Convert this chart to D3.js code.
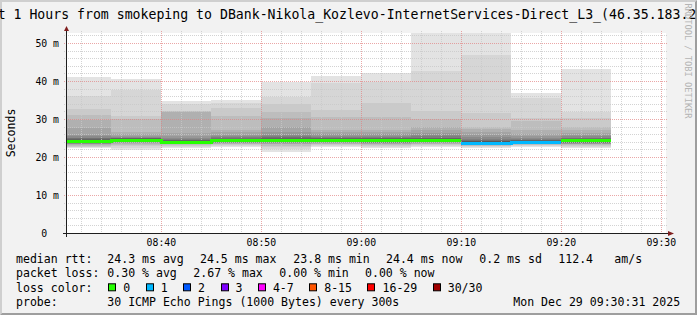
<!DOCTYPE html>
<html lang="en">
<head>
<meta charset="UTF-8">
<title>SmokePing - last 1 hour</title>
<script src="https://cdn.jsdelivr.net/npm/d3@7"></script>
<style>
  html, body { margin: 0; padding: 0; background: #f2f2f2; }
  svg { display: block; font-family: "DejaVu Sans Mono", monospace; }
</style>
</head>
<body>
<svg id="chart" width="697" height="315"></svg>
<script>
// graph window (UTC) and the 300 s steps, labelled by their end time
const day = "2025-12-29";
const graphStart = "08:30:31";
const graphEnd = "09:30:31";
const stepTimes = ["08:35", "08:40", "08:45", "08:50", "08:55", "09:00", "09:05", "09:10", "09:15", "09:20", "09:25"];

// median rtt per step (ms) and lost pings per step (of 30)
const medians = [24.2, 24.5, 24.0, 24.4, 24.5, 24.4, 24.4, 24.4, 23.8, 24.0, 24.4];
const lostPings = [0, 0, 0, 0, 0, 0, 0, 0, 0.8, 0.2, 0];

// the 30 sorted ping times of every step (ms)
const pings = [
  [22.3, 22.5, 22.7, 22.9, 23.1, 23.3, 23.4, 23.5, 23.6, 23.7, 23.8, 23.9, 24.0, 24.1, 24.2, 24.3, 24.4, 24.5, 24.6, 24.7, 24.9, 25.1, 25.4, 25.8, 27.6, 29.7, 31.0, 32.6, 36.0, 41.1],
  [21.8, 22.4, 22.8, 23.1, 23.4, 23.6, 23.8, 23.9, 24.0, 24.1, 24.2, 24.3, 24.4, 24.4, 24.5, 24.5, 24.6, 24.7, 24.8, 24.9, 25.0, 25.1, 25.3, 25.6, 26.0, 26.7, 30.1, 30.8, 37.6, 40.5],
  [22.3, 22.6, 22.9, 23.1, 23.3, 23.4, 23.5, 23.6, 23.7, 23.8, 23.9, 23.9, 24.0, 24.0, 24.0, 24.0, 24.1, 24.2, 24.3, 24.4, 24.6, 24.8, 25.1, 25.6, 26.3, 31.9, 32.0, 32.1, 33.9, 34.7],
  [22.7, 23.0, 23.2, 23.4, 23.5, 23.6, 23.7, 23.8, 23.9, 24.0, 24.1, 24.2, 24.3, 24.3, 24.4, 24.4, 24.5, 24.6, 24.7, 24.8, 25.0, 25.2, 25.5, 25.9, 26.5, 27.1, 30.8, 32.9, 34.3, 35.0],
  [21.4, 22.0, 22.6, 23.0, 23.3, 23.5, 23.7, 23.8, 23.9, 24.0, 24.1, 24.2, 24.3, 24.4, 24.5, 24.5, 24.6, 24.7, 24.8, 25.0, 25.2, 25.5, 25.9, 26.6, 27.8, 30.3, 31.9, 33.9, 35.9, 39.8],
  [22.6, 22.9, 23.2, 23.4, 23.5, 23.7, 23.8, 23.9, 24.0, 24.0, 24.1, 24.2, 24.3, 24.3, 24.4, 24.4, 24.5, 24.6, 24.7, 24.9, 25.1, 25.3, 25.6, 26.0, 26.6, 27.1, 30.5, 32.4, 39.4, 41.3],
  [22.3, 22.7, 23.0, 23.2, 23.4, 23.5, 23.6, 23.7, 23.8, 23.9, 24.0, 24.1, 24.2, 24.3, 24.4, 24.4, 24.5, 24.6, 24.7, 24.9, 25.1, 25.3, 25.6, 26.0, 26.5, 27.1, 30.6, 34.1, 39.8, 42.0],
  [22.6, 22.9, 23.1, 23.3, 23.5, 23.7, 23.8, 23.9, 24.0, 24.1, 24.2, 24.3, 24.3, 24.4, 24.4, 24.4, 24.5, 24.6, 24.7, 24.9, 25.1, 25.4, 25.8, 26.4, 27.2, 28.0, 29.9, 32.1, 42.7, 55.0],
  [22.3, 22.6, 22.8, 23.0, 23.1, 23.2, 23.3, 23.4, 23.5, 23.5, 23.6, 23.7, 23.7, 23.8, 23.8, 23.8, 23.9, 24.0, 24.1, 24.3, 24.5, 24.8, 25.2, 25.8, 26.6, 27.3, 28.0, 31.5, 46.8, 54.0],
  [22.6, 22.9, 23.1, 23.2, 23.3, 23.4, 23.5, 23.6, 23.7, 23.7, 23.8, 23.8, 23.9, 23.9, 24.0, 24.0, 24.1, 24.2, 24.3, 24.4, 24.6, 24.8, 25.1, 25.5, 26.0, 27.1, 29.6, 30.2, 35.4, 36.8],
  [22.3, 22.7, 22.9, 23.1, 23.3, 23.4, 23.5, 23.6, 23.7, 23.8, 23.9, 24.0, 24.1, 24.2, 24.3, 24.4, 24.4, 24.5, 24.6, 24.7, 24.9, 25.1, 25.4, 25.8, 26.3, 27.0, 28.0, 30.2, 31.9, 43.2]
];

// loss colour classes (upper bound in lost pings)
const lossLabels = ["0", "1", "2", "3", "4-7", "8-15", "16-29", "30/30"];
const lossLimits = [0, 1, 2, 3, 7, 15, 29, 30];
const lossColors = ["#26ff00", "#00b8ff", "#0059ff", "#7e00ff", "#ff00ff", "#ff5500", "#ff0000", "#a00000"];

const yTicks = [0, 10, 20, 30, 40, 50];
const yMax = 52.63;

const title = "Last 1 Hours from smokeping to DBank-Nikola_Kozlevo-InternetServices-Direct_L3_(46.35.183.2";
const medianStats = ["24.3 ms avg", "24.5 ms max", "23.8 ms min", "24.4 ms now", "0.2 ms sd", "112.4", "am/s"];
const lossStats = ["0.30 % avg", "2.67 % max", "0.00 % min", "0.00 % now"];
const probeText = "30 ICMP Echo Pings (1000 Bytes) every 300s";
const stampText = "Mon Dec 29 09:30:31 2025";

(function () {
    const W = 697, H = 315;
    const X0 = 66, X1 = 666, Y0 = 233, Y1 = 33;
    const pingCount = 30, half = pingCount / 2;

    const svg = d3.select("#chart");
    const parse = d3.utcParse("%Y-%m-%d %H:%M:%S");
    const tStart = parse(`${day} ${graphStart}`);
    const tEnd = parse(`${day} ${graphEnd}`);

    const x = d3.scaleUtc().domain([tStart, tEnd]).range([X0, X1]);
    const y = d3.scaleLinear().domain([0, yMax]).range([Y0, Y1]);

    // background and 3d border
    svg.append("rect").attr("width", W).attr("height", H).attr("fill", "#f2f2f2");
    svg.append("path").attr("d", `M0,0H${W}L${W - 2},2H2V${H - 2}L0,${H}Z`).attr("fill", "#cfcfcf");
    svg.append("path").attr("d", `M${W},0V${H}H0L2,${H - 2}H${W - 2}V2Z`).attr("fill", "#9e9e9e");

    svg.append("rect")
        .attr("x", X0).attr("y", Y1)
        .attr("width", X1 - X0).attr("height", Y0 - Y1)
        .attr("fill", "#ffffff");

    svg.append("defs").append("clipPath").attr("id", "plot")
        .append("rect")
        .attr("x", X0).attr("y", Y1)
        .attr("width", X1 - X0).attr("height", Y0 - Y1);

    // step extents in pixels
    const steps = stepTimes.map((t, i) => {
        const te = parse(`${day} ${t}:00`);
        const tb = new Date(Math.max(+tStart, +te - 300e3));
        return { i, xa: Math.round(x(tb)), xb: Math.round(x(te)) };
    });

    // smoke: band k spans ping k .. ping (31-k), darker toward the middle
    const bands = [];
    steps.forEach(s => {
        const p = pings[s.i];
        for (let k = 1; k <= half; k++) {
            const g = Math.floor(190 / half * (half - k)) + 50;
            bands.push({ xa: s.xa, xb: s.xb, lo: p[k - 1], hi: p[pingCount - k], grey: g });
        }
    });

    svg.append("g")
        .attr("clip-path", "url(#plot)")
        .attr("shape-rendering", "crispEdges")
        .selectAll("rect")
        .data(bands)
        .enter()
        .append("rect")
        .attr("x", d => d.xa)
        .attr("width", d => d.xb - d.xa)
        .attr("y", d => Math.round(y(d.hi)))
        .attr("height", d => Math.max(1, Math.round(y(d.lo)) - Math.round(y(d.hi))))
        .attr("fill", d => d3.rgb(d.grey, d.grey, d.grey));

    // grid
    const grid = svg.append("g").attr("fill", "none").attr("stroke-dasharray", "1,1");
    const minorY = d3.range(2, yMax, 2).filter(v => v % 10 !== 0);
    const majorY = yTicks.filter(v => v > 0);
    const minorX = x.ticks(d3.utcMinute.every(2)).filter(t => t.getUTCMinutes() % 10 !== 0);
    const majorX = x.ticks(d3.utcMinute.every(10));

    function hLines(vals, colour) {
        grid.selectAll(null).data(vals).enter().append("line")
            .attr("x1", X0 - 2).attr("x2", X1 + 2)
            .attr("y1", d => Math.round(y(d)) + 0.5).attr("y2", d => Math.round(y(d)) + 0.5)
            .attr("stroke", colour);
    }
    function vLines(vals, colour) {
        grid.selectAll(null).data(vals).enter().append("line")
            .attr("y1", Y1 - 2).attr("y2", Y0 + 2)
            .attr("x1", d => Math.round(x(d)) + 0.5).attr("x2", d => Math.round(x(d)) + 0.5)
            .attr("stroke", colour);
    }
    hLines(minorY, "rgba(200,200,200,0.8)");
    vLines(minorX, "rgba(200,200,200,0.8)");
    hLines(majorY, "rgba(225,130,130,0.7)");
    vLines(majorX, "rgba(225,130,130,0.7)");

    // median line, coloured by loss class, joined while the class stays the same
    const lossClass = l => lossLimits.findIndex(lim => l <= lim);
    const runs = [];
    steps.forEach(s => {
        const c = lossClass(lostPings[s.i]);
        const yy = Math.round(y(medians[s.i])) + 0.5;
        const last = runs[runs.length - 1];
        if (!last || last.c !== c) runs.push({ c, pts: [] });
        runs[runs.length - 1].pts.push([s.xa, yy], [s.xb, yy]);
    });
    const line = d3.line();
    svg.append("g").selectAll("path").data(runs).enter().append("path")
        .attr("d", d => line(d.pts))
        .attr("fill", "none")
        .attr("stroke", d => lossColors[d.c])
        .attr("stroke-width", 3)
        .attr("shape-rendering", "crispEdges");

    // axes
    const axisCol = "#1f1f1f", arrowCol = "#801f1f";
    svg.append("line").attr("x1", X0 - 3).attr("x2", X1 + 2)
        .attr("y1", Y0 + 0.5).attr("y2", Y0 + 0.5).attr("stroke", axisCol);
    svg.append("line").attr("x1", X0 + 0.5).attr("x2", X0 + 0.5)
        .attr("y1", Y0 + 4).attr("y2", Y1 - 3).attr("stroke", axisCol);
    svg.append("path").attr("d", `M${X1 + 2},${Y0 - 2}L${X1 + 8},${Y0 + 0.5}L${X1 + 2},${Y0 + 3}Z`).attr("fill", arrowCol);
    svg.append("path").attr("d", `M${X0 - 2},${Y1 - 2}L${X0 + 0.5},${Y1 - 7}L${X0 + 3},${Y1 - 2}Z`).attr("fill", arrowCol);

    const yAxis = d3.axisLeft(y)
        .tickValues(yTicks)
        .tickSize(0)
        .tickPadding(7)
        .tickFormat(v => v === 0 ? "0" : `${v} m`);
    const gy = svg.append("g").attr("transform", `translate(${X0},0)`).call(yAxis);
    gy.select(".domain").remove();
    gy.selectAll("text")
        .attr("dy", "0.35em")
        .attr("dx", d => d === 0 ? -11.8 : 0)
        .attr("font-family", "DejaVu Sans Mono")
        .attr("font-size", "9.8px")
        .attr("fill", "#000");

    const xAxis = d3.axisBottom(x)
        .tickValues(majorX)
        .tickSize(0)
        .tickPadding(6)
        .tickFormat(d3.utcFormat("%H:%M"));
    const gx = svg.append("g").attr("transform", `translate(0,${Y0})`).call(xAxis);
    gx.select(".domain").remove();
    gx.selectAll("text")
        .attr("font-family", "DejaVu Sans Mono")
        .attr("font-size", "9.8px")
        .attr("fill", "#000");

    // y axis title
    svg.append("text")
        .attr("transform", `translate(14.5,${(Y0 + Y1) / 2}) rotate(-90)`)
        .attr("text-anchor", "middle")
        .attr("font-size", "11.55px")
        .text("Seconds");

    // title (wider than the picture, as in the original)
    svg.append("text")
        .attr("x", -26.2).attr("y", 18.5)
        .attr("font-size", "13.2px")
        .text(title);

    // legend
    const base = [263.3, 277.4, 291.6, 305.7];
    const legend = svg.append("g").attr("font-size", "11.55px").style("white-space", "pre");
    const medianX = [107.3, 200, 293.3, 386, 479.3, 558.3, 614.3];
    const lossX = [107.3, 193.3, 279.3, 365];

    legend.append("text").attr("x", 16).attr("y", base[0]).text("median rtt:");
    legend.selectAll(null).data(medianStats).enter().append("text")
        .attr("x", (d, i) => medianX[i]).attr("y", base[0]).text(d => d);

    legend.append("text").attr("x", 16).attr("y", base[1]).text("packet loss:");
    legend.selectAll(null).data(lossStats).enter().append("text")
        .attr("x", (d, i) => lossX[i]).attr("y", base[1]).text(d => d);

    legend.append("text").attr("x", 16).attr("y", base[2]).text("loss color:");
    let sx = 108.3;
    lossLabels.forEach((lab, i) => {
        legend.append("rect")
            .attr("x", Math.round(sx) + 0.5).attr("y", base[2] - 7.8)
            .attr("width", 7).attr("height", 7)
            .attr("fill", lossColors[i])
            .attr("stroke", "#000").attr("stroke-width", 1);
        const t = legend.append("text").attr("x", sx + 15).attr("y", base[2]).text(lab);
        sx += 15 + t.node().getComputedTextLength() + 15.45;
    });

    legend.append("text").attr("x", 16).attr("y", base[3]).text("probe:");
    legend.append("text").attr("x", 107.3).attr("y", base[3]).text(probeText);
    legend.append("text").attr("x", 513.3).attr("y", base[3]).text(stampText);

    // rrdtool watermark
    svg.append("text")
        .attr("transform", "translate(685,3.5) rotate(90)")
        .attr("font-size", "8.7px")
        .attr("fill", "#b4b4b4")
        .text("RRDTOOL / TOBI OETIKER");
})();
</script>
</body>
</html>
